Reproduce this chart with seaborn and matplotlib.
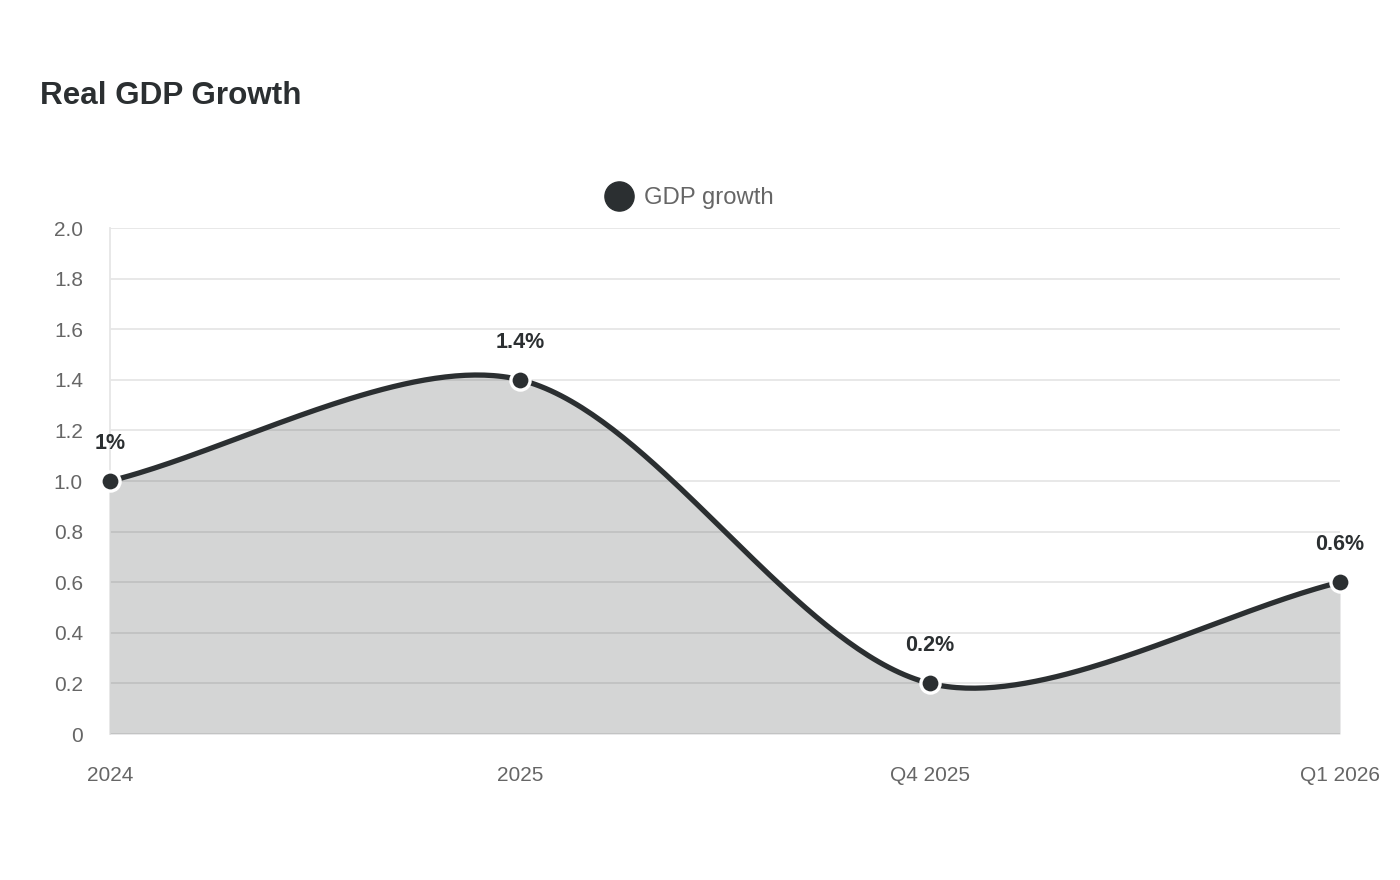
import numpy as np
import seaborn as sns
from matplotlib import pyplot as plt
from matplotlib.lines import Line2D

# data
periods = ['2024', '2025', 'Q4 2025', 'Q1 2026']
gdp_growth = [1.0, 1.4, 0.2, 0.6]
point_labels = ['1%', '1.4%', '0.2%', '0.6%']
y_ticks = [0, 0.2, 0.4, 0.6, 0.8, 1.0, 1.2, 1.4, 1.6, 1.8, 2.0]
y_tick_labels = ['0', '0.2', '0.4', '0.6', '0.8', '1.0', '1.2', '1.4', '1.6', '1.8', '2.0']

LINE = '#2b2f31'
GRID = '#e6e6e6'
TEXT = '#666666'


def spline_curve(xs, ys, tension=0.4, sx=410.0, sy=253.0, n=80):
    # Chart.js style bezier control points, computed in pixel-like space
    px = np.array(xs, dtype=float) * sx
    py = np.array(ys, dtype=float) * sy
    m = len(px)
    ctrl_prev, ctrl_next = [], []
    for i in range(m):
        p0 = (px[max(i - 1, 0)], py[max(i - 1, 0)])
        p1 = (px[i], py[i])
        p2 = (px[min(i + 1, m - 1)], py[min(i + 1, m - 1)])
        d01 = np.hypot(p1[0] - p0[0], p1[1] - p0[1])
        d12 = np.hypot(p2[0] - p1[0], p2[1] - p1[1])
        s01 = d01 / (d01 + d12) if d01 + d12 else 0
        s12 = d12 / (d01 + d12) if d01 + d12 else 0
        fa, fb = tension * s01, tension * s12
        ctrl_prev.append((p1[0] - fa * (p2[0] - p0[0]), p1[1] - fa * (p2[1] - p0[1])))
        ctrl_next.append((p1[0] + fb * (p2[0] - p0[0]), p1[1] + fb * (p2[1] - p0[1])))
    out_x, out_y = [], []
    t = np.linspace(0, 1, n)
    for i in range(m - 1):
        P0 = np.array([px[i], py[i]])
        P1 = np.array(ctrl_next[i])
        P2 = np.array(ctrl_prev[i + 1])
        P3 = np.array([px[i + 1], py[i + 1]])
        pts = ((1 - t) ** 3)[:, None] * P0 + (3 * (1 - t) ** 2 * t)[:, None] * P1 \
            + (3 * (1 - t) * t ** 2)[:, None] * P2 + (t ** 3)[:, None] * P3
        out_x.extend(pts[:, 0] / sx)
        out_y.extend(pts[:, 1] / sy)
    return np.array(out_x), np.array(out_y)


sns.set_theme(style='white')
plt.rcParams['font.family'] = ['Liberation Sans', 'DejaVu Sans']

fig = plt.figure(figsize=(14, 8.8), dpi=100)
ax = fig.add_axes([110 / 1400, 1 - 734 / 880, 1230 / 1400, 506 / 880])

x = np.arange(len(periods))
sx, sy = spline_curve(x, gdp_growth, tension=0.3)

# grid under the fill
for yt in y_ticks:
    ax.axhline(yt, color=GRID, lw=1.3, zorder=0)

ax.fill_between(sx, sy, 0, color=LINE, alpha=0.2, lw=0, zorder=1)
sns.lineplot(x=sx, y=sy, ax=ax, color=LINE, lw=3.8, sort=False, zorder=3)
sns.scatterplot(x=x, y=gdp_growth, ax=ax, color=LINE, s=190, edgecolor='white',
                linewidth=2.4, zorder=4, clip_on=False)

for xi, yi, lab in zip(x, gdp_growth, point_labels):
    ax.annotate(lab, (xi, yi), xytext=(0, 27), textcoords='offset points',
                ha='center', va='center', fontsize=15.5, fontweight='bold', color=LINE)

ax.set_xlim(0, 3)
ax.set_ylim(0, 2.0)
ax.set_xticks(x)
ax.set_xticklabels(periods)
ax.set_yticks(y_ticks)
ax.set_yticklabels(y_tick_labels)
ax.tick_params(axis='x', length=0, pad=23, labelsize=15, labelcolor=TEXT)
ax.tick_params(axis='y', length=11.5, width=1.3, color=GRID, pad=8, labelsize=15, labelcolor=TEXT)
for lbl in ax.get_yticklabels():
    lbl.set_va('center_baseline')

for side in ['top', 'right', 'bottom']:
    ax.spines[side].set_visible(False)
ax.spines['left'].set_color(GRID)
ax.spines['left'].set_linewidth(1.3)
ax.spines['left'].set_zorder(0)

fig.text(40 / 1400, 1 - 96 / 880, 'Real GDP Growth', fontsize=22.6, fontweight='bold',
         color=LINE, ha='left', va='center')

handle = Line2D([], [], marker='o', linestyle='none', markersize=21, color=LINE)
fig.legend([handle], ['GDP growth'], loc='center', bbox_to_anchor=(689 / 1400, 1 - 198 / 880),
           frameon=False, fontsize=17.2, labelcolor=TEXT, handletextpad=0.45,
           handlelength=1.2)

plt.savefig('out.png', dpi=100)
